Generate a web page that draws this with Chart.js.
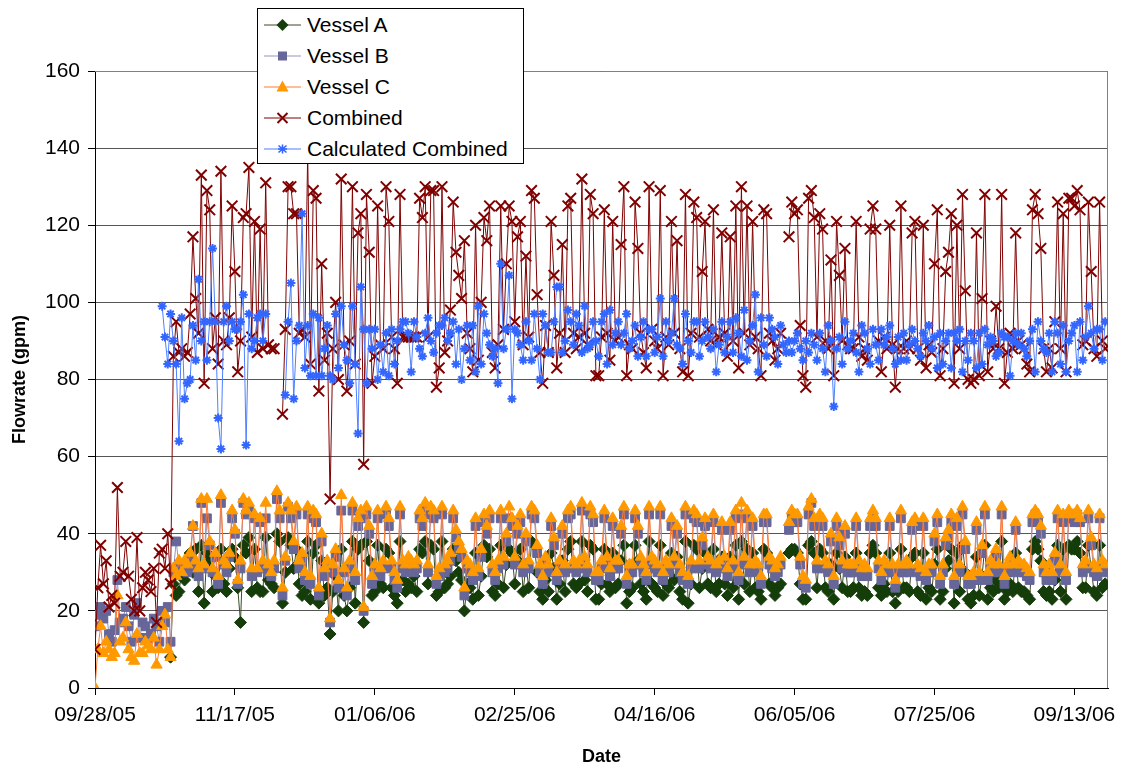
<!DOCTYPE html>
<html lang="en">
<head>
    <meta charset="UTF-8">
    <title>Flowrate</title>
    <style>
        body {
            margin: 0;
            background: #fff;
            font-family: "Liberation Sans", Arial, sans-serif;
        }
        #wrap {
            position: relative;
            width: 1125px;
            height: 769px;
        }
        #legend {
            position: absolute;
            left: 257px;
            top: 8px;
            width: 267px;
            height: 156px;
            background: #fff;
            border: 1px solid #000;
            box-sizing: border-box;
        }
        .row {
            position: absolute;
            left: 0;
            height: 31px;
            display: flex;
            align-items: center;
            font-size: 21px;
            color: #000;
        }
        .row svg {
            margin-left: 6px;
            margin-right: 6px;
        }
    </style>
</head>
<body>
<div id="wrap">
    <canvas id="chart" width="1125" height="769"></canvas>
    <div id="legend"></div>
</div>

<script src="https://cdn.jsdelivr.net/npm/chart.js"></script>
<script>
    // x axis: days since 09/28/05, labelled every 50 days
    const tickLabels = ['09/28/05', '11/17/05', '01/06/06', '02/25/06', '04/16/06', '06/05/06', '07/25/06', '09/13/06'];
    const tickStep = 50;
    const lastDay = 362;

    // one value per day, index = day
    const vesselA = [
        null, null, null, null, null, null, null, null, null, null,
        null, null, null, null, null, null, null, null, null, null,
        null, null, null, null, null, null, null, 8, 27, 24,
        25, 30, 28, 31, 35, 30, 36, 25, 37, 22,
        35, 33, 25, 29, 26, 36, 27, 25, 31, 36,
        34, 26, 17, 37, 35, 39, 25, 36, 26, 25,
        25, 39, 28, 27, 26, 40, 38, 22, 30, 39,
        37, 31, 36, 27, 24, 25, 38, 23, 35, 37,
        22, 33, 24, 26, 14, 25, 29, 20, 36, 24,
        20, 26, 38, 22, 36, 37, 17, 38, 33, 24,
        25, 37, 27, 26, 36, 35, 26, 24, 22, 38,
        28, 25, 27, 26, 29, 25, 36, 35, 38, 27,
        37, 36, 24, 25, 38, 26, 27, 29, 36, 33,
        30, 28, 20, 27, 26, 23, 35, 24, 29, 37,
        34, 36, 25, 24, 27, 37, 26, 32, 36, 35,
        27, 33, 36, 25, 32, 26, 38, 37, 30, 25,
        23, 28, 25, 35, 31, 23, 27, 33, 25, 36,
        38, 27, 26, 27, 38, 28, 25, 37, 36, 23,
        23, 27, 36, 27, 25, 35, 26, 27, 33, 37,
        22, 25, 26, 37, 33, 27, 25, 23, 38, 27,
        26, 25, 37, 24, 27, 26, 35, 28, 34, 25,
        23, 38, 22, 27, 37, 36, 26, 31, 35, 27,
        26, 36, 25, 27, 34, 27, 24, 34, 26, 37,
        23, 38, 27, 36, 25, 35, 26, 25, 23, 36,
        35, 27, 26, 24, 26, 27, null, null, 35, 36,
        36, 35, 27, 23, 23, 37, 38, 35, 26, 36,
        35, 26, 25, 32, 23, 35, 31, 26, 34, 25,
        25, 26, 35, 26, 24, 25, 24, 35, 37, 35,
        26, 24, 27, 25, 35, 25, 22, 25, 36, 26,
        26, 25, 34, 35, 25, 24, 35, 23, 26, 25,
        32, 36, 23, 25, 31, 33, 36, 22, 35, 25,
        37, 30, 23, 22, 24, 34, 24, 29, 37, 23,
        26, 25, 28, 26, 38, 23, 25, 27, 25, 35,
        26, 25, 25, 24, 23, 36, 38, 36, 33, 25,
        24, 25, 23, 28, 37, 25, 36, 23, 37, 36,
        36, 38, 35, 26, 26, 37, 31, 25, 24, 37,
        26, 27
    ];

    const vesselB = [
        16, 19, 21, 18, 20, 14, 12, 15, 28, 17,
        18, 21, 16, 12, 19, 22, 13, 17, 16, 13,
        14, 18, 16, 12, 20, 17, 21, 12, 30, 38,
        32, 31, 32, 30, 33, 42, 31, 29, 48, 31,
        44, 37, 30, 34, 27, 48, 32, 30, 34, 44,
        40, 27, 31, 48, 45, 46, 29, 44, 30, 43,
        31, 44, 30, 29, 31, 49, 44, 24, 33, 47,
        44, 36, 45, 31, 33, 28, 45, 27, 44, 43,
        24, 38, 29, 31, 17, 30, 34, 26, 46, 30,
        24, 31, 46, 28, 42, 44, 20, 45, 40, 27,
        30, 44, 29, 31, 45, 42, 31, 28, 26, 45,
        31, 30, 32, 31, 30, 31, 44, 42, 46, 30,
        45, 44, 27, 29, 45, 30, 31, 33, 44, 39,
        36, 34, 24, 31, 30, 28, 42, 29, 34, 43,
        40, 44, 30, 28, 31, 44, 32, 38, 44, 42,
        32, 40, 43, 30, 38, 31, 45, 44, 35, 30,
        27, 32, 30, 42, 37, 28, 31, 40, 30, 44,
        45, 31, 30, 31, 46, 32, 30, 45, 43, 28,
        28, 31, 44, 32, 29, 42, 31, 31, 40, 45,
        27, 30, 30, 44, 40, 32, 30, 28, 45, 32,
        31, 30, 45, 28, 31, 30, 42, 32, 40, 30,
        28, 45, 27, 31, 44, 43, 31, 37, 42, 32,
        31, 43, 30, 31, 41, 32, 29, 41, 31, 44,
        28, 45, 32, 44, 30, 42, 31, 30, 27, 43,
        43, 32, 31, 29, 30, 32, null, null, 41, 44,
        43, 43, 32, 27, 26, 45, 48, 42, 31, 43,
        42, 31, 30, 38, 27, 42, 37, 31, 40, 30,
        30, 30, 42, 31, 29, 30, 29, 42, 44, 42,
        31, 28, 31, 30, 42, 30, 26, 30, 44, 30,
        31, 30, 41, 42, 30, 29, 42, 28, 30, 30,
        38, 43, 27, 30, 37, 39, 43, 27, 42, 30,
        45, 36, 27, 27, 28, 41, 28, 35, 45, 28,
        31, 30, 34, 30, 45, 27, 30, 32, 30, 41,
        31, 30, 30, 29, 28, 43, 45, 43, 40, 30,
        28, 30, 28, 33, 44, 30, 43, 28, 44, 44,
        43, 45, 43, 30, 31, 44, 37, 30, 29, 44,
        31, 30
    ];

    const vesselC = [
        0, 10, 16, 9, 12, 10, 8, 9, 24, 12,
        13, 17, 10, 8, 7, 14, 9, 9, 12, 11,
        10, 13, 6, 10, 16, 19, 10, 8, 31, 29,
        33, 30, 33, 32, 35, 42, 33, 31, 49, 32,
        49, 38, 31, 35, 29, 50, 33, 32, 35, 46,
        41, 28, 33, 49, 46, 48, 31, 45, 31, 44,
        33, 48, 32, 30, 33, 51, 46, 26, 34, 48,
        46, 38, 47, 33, 35, 30, 47, 29, 46, 45,
        26, 40, 31, 33, 18, 32, 36, 28, 50, 31,
        26, 33, 48, 30, 44, 46, 21, 47, 42, 29,
        32, 46, 31, 33, 47, 44, 33, 30, 28, 47,
        33, 32, 34, 33, 32, 33, 46, 44, 48, 32,
        47, 46, 29, 31, 47, 32, 33, 35, 46, 41,
        38, 36, 26, 33, 32, 30, 44, 31, 36, 45,
        42, 46, 32, 30, 33, 46, 34, 40, 47, 44,
        34, 42, 45, 32, 40, 33, 47, 46, 37, 32,
        29, 34, 32, 44, 39, 30, 33, 42, 32, 46,
        47, 33, 32, 33, 48, 34, 32, 47, 45, 30,
        30, 33, 46, 34, 31, 44, 33, 33, 42, 47,
        29, 32, 32, 46, 42, 34, 32, 30, 47, 34,
        33, 32, 47, 30, 33, 32, 44, 34, 42, 32,
        30, 47, 29, 33, 46, 45, 33, 39, 44, 34,
        33, 45, 32, 33, 43, 34, 31, 43, 33, 46,
        30, 48, 34, 46, 32, 44, 33, 32, 29, 45,
        45, 34, 33, 31, 32, 34, null, null, 43, 46,
        45, 45, 34, 29, 28, 47, 49, 44, 33, 45,
        44, 33, 32, 40, 29, 44, 39, 33, 42, 32,
        32, 32, 44, 33, 31, 32, 31, 44, 46, 44,
        33, 30, 33, 32, 44, 32, 28, 32, 46, 32,
        33, 32, 43, 44, 32, 31, 44, 30, 32, 32,
        40, 45, 29, 32, 39, 41, 45, 29, 44, 32,
        47, 38, 29, 29, 30, 43, 30, 37, 47, 30,
        33, 32, 36, 32, 47, 29, 32, 34, 32, 43,
        33, 32, 32, 31, 30, 45, 46, 45, 42, 32,
        30, 32, 30, 35, 46, 32, 45, 30, 46, 45,
        45, 46, 44, 32, 33, 46, 39, 32, 31, 45,
        33, 32
    ];

    const combined = [
        10, 26, 37, 27, 33, 21, 24, 22, 52, 29,
        30, 38, 29, 23, 20, 39, 20, 26, 30, 28,
        25, 31, 17, 35, 36, 31, 40, 27, 86, 95,
        87, 88, 86, 87, 97, 117, 101, 92, 133, 79,
        129, 124, 88, 96, 84, 134, 90, 89, 96, 125,
        108, 82, 90, 122, 123, 135, 91, 121, 87, 119,
        88, 131, 89, 88, 88, null, null, 71, 93, 130,
        130, 123, 123, 92, 93, 91, 139, 84, 129, 127,
        77, 110, 85, 92, 49, 88, 100, 80, 132, 89,
        77, 90, 130, 84, 118, 123, 58, 128, 113, 79,
        86, 125, 89, 88, 130, 121, 91, 88, 79, 128,
        91, 91, 91, 91, 91, 91, 127, 122, 130, 91,
        129, 129, 78, 83, 130, 87, 90, 98, 126, 113,
        107, 101, 116, 92, 88, 82, 120, 85, 100, 122,
        116, 125, 87, 83, 89, 125, 93, 110, 125, 121,
        95, 117, 121, 89, 112, 91, 129, 127, 102, 87,
        79, 94, 87, 121, 107, 83, 92, 115, 87, 125,
        127, 92, 88, 91, 132, 92, 89, 128, 123, 81,
        81, 91, 124, 92, 85, 121, 90, 91, 115, 130,
        81, 89, 88, 126, 114, 92, 87, 83, 130, 93,
        90, 88, 129, 81, 91, 89, 121, 92, 116, 88,
        82, 128, 81, 92, 126, 122, 91, 108, 121, 93,
        90, 124, 89, 91, 118, 92, 86, 117, 90, 125,
        83, 130, 92, 125, 89, 121, 91, 88, 81, 124,
        123, 92, 90, 85, 88, 92, null, null, 117, 126,
        123, 124, 94, 81, 78, 127, 129, 122, 91, 123,
        119, 90, 88, 111, 81, 121, 107, 90, 114, 89,
        88, 88, 121, 91, 86, 88, 85, 119, 125, 119,
        90, 82, 91, 88, 120, 89, 78, 88, 125, 88,
        90, 88, 118, 121, 88, 85, 120, 83, 89, 87,
        110, 124, 81, 88, 108, 113, 123, 79, 120, 88,
        128, 103, 80, 79, 80, 118, 81, 101, 128, 82,
        90, 88, 99, 88, 128, 79, 87, 92, 88, 118,
        90, 89, 88, 84, 82, 124, 128, 123, 114, 88,
        82, 88, 83, 95, 126, 88, 123, 82, 127, 127,
        125, 129, 124, 89, 90, 126, 108, 88, 86, 126,
        90, 88
    ];

    const calculated = [
        null, null, null, null, null, null, null, null, null, null,
        null, null, null, null, null, null, null, null, null, null,
        null, null, null, null, 99, 91, 84, 97, 90, 84,
        64, 96, 75, 79, 80, 94, 85, 106, 90, 95,
        85, 95, 114, 95, 70, 62, 95, 99, 90, 95,
        93, 93, 95, 102, 63, 97, 88, 90, 96, 97,
        90, 97, null, null, null, null, null, null, 76, 95,
        105, 75, 90, 94, 123, 83, 94, 81, 97, 81,
        96, 81, 88, 94, 81, 80, 97, 83, 99, 89,
        85, 79, 99, 84, 66, 104, 93, 79, 93, 88,
        93, 80, 89, 82, 92, 81, 93, 84, 90, 93,
        95, 95, 92, 82, 95, 91, 88, 86, 92, 96,
        90, 87, 92, 94, 94, 96, 90, 92, 95, 84,
        93, 80, 88, 94, 85, 94, 82, 99, 84, 97,
        92, 89, 86, 88, 79, 110, 88, 93, 107, 75,
        93, 92, 89, 85, 95, 90, 85, 97, 88, 80,
        97, 94, 87, 87, 95, 104, 104, 87, 90, 98,
        95, 89, 97, 94, 87, 99, 88, 89, 95, 90,
        86, 95, 97, 84, 98, 89, 92, 95, 89, 92,
        97, 88, 90, 94, 86, 91, 95, 86, 93, 93,
        87, 91, 101, 86, 95, 90, 92, 101, 89, 88,
        84, 97, 90, 87, 95, 95, 86, 90, 95, 91,
        88, 93, 82, 89, 95, 87, 91, 95, 87, 96,
        92, 86, 98, 85, 90, 94, 102, 82, 96, 89,
        86, 96, 93, 91, 84, 94, 89, 87, 90, 87,
        90, 92, 88, 85, 90, 87, 92, 89, 85, 92,
        88, 82, 94, 90, 73, 88, 91, 84, 95, 88,
        90, 92, 87, 82, 94, 92, 88, 84, 93, 89,
        85, 93, 89, 91, 94, 88, 84, 91, 85, 92,
        85, 89, 93, 90, 88, 86, 92, 90, 94, 88,
        91, 83, 92, 84, 90, 92, 83, 92, 90, 93,
        82, 90, 85, 92, 90, 83, 92, 84, 93, 89,
        91, 90, 86, 87, 92, 91, 91, 81, 90, 92,
        89, 92, 88, 86, 90, 93, 82, 95, 90, 88,
        87, 92, 82, 95, 92, 84, 94, 82, 90, 92,
        94, 82, 95, 85, 91, 99, 92, 88, 93, 93,
        85, 95
    ];

    function toPoints(values) {
        return values.map((v, i) => ({ x: i, y: v }));
    }

    const series = [
        { label: 'Vessel A', data: vesselA, line: '#3d4a26', mark: '#143d0a', style: 'rectRot', r: 6, bw: 1, order: 5 },
        { label: 'Vessel B', data: vesselB, line: '#9494c4', mark: '#666699', style: 'rect', r: 6.2, bw: 1, order: 4 },
        { label: 'Vessel C', data: vesselC, line: '#ff7a33', mark: '#ff9900', style: 'triangle', r: 6.5, bw: 1, order: 3 },
        { label: 'Combined', data: combined, line: '#800000', mark: '#800000', style: 'crossRot', r: 7.5, bw: 2, order: 2 },
        { label: 'Calculated Combined', data: calculated, line: '#4d7fff', mark: '#3366ff', style: 'star', r: 4.5, bw: 2, order: 1 }
    ];

    Chart.defaults.font.family = '"Liberation Sans", Arial, sans-serif';
    Chart.defaults.color = '#000';

    // grey frame on the top and right side of the plot
    const framePlugin = {
        id: 'frame',
        beforeDatasetsDraw(chart) {
            const a = chart.chartArea;
            const ctx = chart.ctx;
            ctx.save();
            ctx.strokeStyle = '#808080';
            ctx.lineWidth = 1;
            ctx.beginPath();
            ctx.moveTo(a.left, a.top + 0.5);
            ctx.lineTo(a.right - 0.5, a.top + 0.5);
            ctx.lineTo(a.right - 0.5, a.bottom);
            ctx.stroke();
            ctx.restore();
        }
    };

    new Chart(document.getElementById('chart'), {
        type: 'line',
        data: {
            datasets: series.map(s => ({
                label: s.label,
                data: toPoints(s.data),
                borderColor: s.line,
                borderWidth: 1,
                backgroundColor: s.mark,
                pointStyle: s.style,
                pointRadius: s.r,
                pointBorderColor: s.mark,
                pointBackgroundColor: s.mark,
                pointBorderWidth: s.bw,
                tension: 0,
                order: s.order
            }))
        },
        options: {
            responsive: false,
            animation: false,
            devicePixelRatio: 1,
            layout: { padding: { top: 71, right: 17, left: 0, bottom: 0 } },
            plugins: {
                legend: { display: false },
                tooltip: { enabled: false }
            },
            scales: {
                x: {
                    type: 'linear',
                    min: 0,
                    max: lastDay,
                    afterFit: scale => { scale.height = 81; },
                    ticks: {
                        stepSize: tickStep,
                        includeBounds: false,
                        autoSkip: false,
                        maxRotation: 0,
                        padding: 8,
                        font: { size: 21 },
                        callback: v => tickLabels[v / tickStep] ?? ''
                    },
                    grid: { drawOnChartArea: false, tickLength: 7, color: '#000' },
                    border: { color: '#000', width: 1 },
                    title: {
                        display: true,
                        text: 'Date',
                        font: { size: 18, weight: 'bold' },
                        padding: { top: 0, bottom: 1 }
                    }
                },
                y: {
                    min: 0,
                    max: 160,
                    afterFit: scale => { scale.width = 95; },
                    ticks: {
                        stepSize: 20,
                        padding: 8,
                        font: { size: 21 }
                    },
                    grid: { color: '#555', tickLength: 7, tickColor: '#000' },
                    border: { color: '#000', width: 1 },
                    title: {
                        display: true,
                        text: 'Flowrate (gpm)',
                        font: { size: 18, weight: 'bold' },
                        padding: { top: 9, bottom: 0 }
                    }
                }
            }
        },
        plugins: [framePlugin]
    });

    // legend box in the top of the plot
    const markSvg = {
        rectRot: c => `<polygon points="18.5,4 24.5,10 18.5,16 12.5,10" fill="${c}"/>`,
        rect: c => `<rect x="14" y="5.5" width="9" height="9" fill="${c}"/>`,
        triangle: c => `<polygon points="18.5,3.5 24.5,14.5 12.5,14.5" fill="${c}"/>`,
        crossRot: c => `<path d="M13.5,5 L23.5,15 M23.5,5 L13.5,15" stroke="${c}" stroke-width="2"/>`,
        star: c => `<path d="M18.5,5.5 L18.5,14.5 M14.5,6.5 L22.5,13.5 M22.5,6.5 L14.5,13.5 M14,10 L23,10" stroke="${c}" stroke-width="1.6"/>`
    };
    const legend = document.getElementById('legend');
    series.forEach((s, i) => {
        const row = document.createElement('div');
        row.className = 'row';
        row.style.top = (31 * i) + 'px';
        row.innerHTML = `<svg width="37" height="20"><line x1="0" y1="10" x2="37" y2="10" stroke="${s.line}" stroke-width="1.2"/>${markSvg[s.style](s.mark)}</svg><span>${s.label}</span>`;
        legend.appendChild(row);
    });
</script>
</body>
</html>
